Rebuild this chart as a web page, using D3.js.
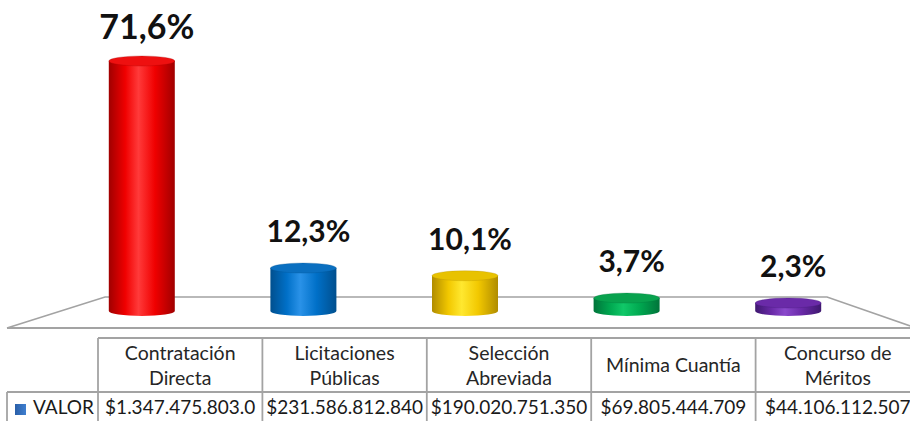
<!DOCTYPE html>
<html>
<head>
<meta charset="utf-8">
<script src="https://cdn.jsdelivr.net/npm/d3@7"></script>
<style>
  body { margin: 0; background: #fff; }
  svg { display: block; font-family: Lato, 'Open Sans', sans-serif; }
</style>
</head>
<body>
<div id="chart"></div>
<script>
const categories = ['Contratación Directa', 'Licitaciones Públicas', 'Selección Abreviada', 'Mínima Cuantía', 'Concurso de Méritos'];
const percents = [71.6, 12.3, 10.1, 3.7, 2.3];
const valueLabels = ['$1.347.475.803.0', '$231.586.812.840', '$190.020.751.350', '$69.805.444.709', '$44.106.112.507'];
const seriesName = 'VALOR';
const colors = [
    { dark: '#a00000', base: '#f00000', light: '#ff3a3a', top: '#ee1010' },
    { dark: '#004f8e', base: '#0070c8', light: '#2a92e8', top: '#0a6fc0' },
    { dark: '#b08c00', base: '#f2c800', light: '#ffe830', top: '#e8c200' },
    { dark: '#00743a', base: '#00a850', light: '#10c868', top: '#08a24e' },
    { dark: '#3f1870', base: '#6a2aa8', light: '#8a48cc', top: '#6a2aa8' }
];

const width = 910;
const height = 421;

const data = categories.map((c, i) => ({ name: c, pct: percents[i], label: valueLabels[i], color: colors[i] }));

const svg = d3.select('#chart').append('svg').attr('width', width).attr('height', height);
const defs = svg.append('defs');

// bar positions (perspective area) and value scale
const x = d3.scaleBand().domain(categories).range([61, 869]);
const y = d3.scaleLinear().domain([0, 71.6]).range([311, 61]);

// table columns
const col = d3.scaleBand().domain(categories).range([98, 920]);

const gray = '#a3a3a3';

// floor
const floorBack = y(0) - 14;
const floorFront = y(0) + 17;
svg.append('path')
    .attr('d', `M7,${floorFront} L105,${floorBack} L827,${floorBack} L916,${floorFront}`)
    .attr('fill', 'none')
    .attr('stroke', gray)
    .attr('stroke-width', 1.6);
svg.append('line')
    .attr('x1', 7).attr('x2', width)
    .attr('y1', floorFront).attr('y2', floorFront)
    .attr('stroke', gray).attr('stroke-width', 2);

// cylinders
const rx = 33;
const ry = 5;
data.forEach((d, i) => {
    const g = defs.append('linearGradient').attr('id', 'grad' + i).attr('x1', '0%').attr('x2', '100%');
    g.append('stop').attr('offset', '0%').attr('stop-color', d.color.dark);
    g.append('stop').attr('offset', '25%').attr('stop-color', d.color.base);
    g.append('stop').attr('offset', '45%').attr('stop-color', d.color.light);
    g.append('stop').attr('offset', '70%').attr('stop-color', d.color.base);
    g.append('stop').attr('offset', '100%').attr('stop-color', d.color.dark);
});

const bars = svg.selectAll('.bar')
    .data(data)
    .enter()
    .append('g')
    .attr('class', 'bar');

bars.append('path')
    .attr('d', (d) => {
        const cx = x(d.name) + x.bandwidth() / 2;
        const yt = y(d.pct);
        const yb = y(0);
        return `M${cx - rx},${yt} L${cx - rx},${yb} A${rx},${ry} 0 0 0 ${cx + rx},${yb} L${cx + rx},${yt} Z`;
    })
    .attr('fill', (d, i) => `url(#grad${i})`);

bars.append('ellipse')
    .attr('cx', (d) => x(d.name) + x.bandwidth() / 2)
    .attr('cy', (d) => y(d.pct))
    .attr('rx', rx)
    .attr('ry', ry)
    .attr('fill', (d) => d.color.top)
    .attr('stroke', (d) => d.color.dark)
    .attr('stroke-opacity', 0.35)
    .attr('stroke-width', 0.8);

const maxPct = d3.max(percents);
svg.selectAll('.pct')
    .data(data)
    .enter()
    .append('text')
    .attr('class', 'pct')
    .attr('x', (d) => x(d.name) + x.bandwidth() / 2 + 5)
    .attr('y', (d) => y(d.pct) - ry - (d.pct === maxPct ? 17 : 21))
    .attr('text-anchor', 'middle')
    .attr('font-weight', 700)
    .attr('font-size', (d) => (d.pct === maxPct ? 34 : 30))
    .attr('fill', '#111')
    .text((d) => d.pct.toFixed(1).replace('.', ',') + '%');

// data table
const tTop = 338;
const tMid = 392;
const tBot = 430;
const lines = svg.append('g').attr('stroke', gray).attr('stroke-width', 1.8);
lines.append('line').attr('x1', 98).attr('x2', width).attr('y1', tTop).attr('y2', tTop);
lines.append('line').attr('x1', 7).attr('x2', width).attr('y1', tMid).attr('y2', tMid);
lines.append('line').attr('x1', 7).attr('x2', 7).attr('y1', tMid).attr('y2', tBot);
categories.forEach((c) => {
    lines.append('line').attr('x1', col(c)).attr('x2', col(c)).attr('y1', tTop).attr('y2', tBot);
});

// header cells with word wrap
const headers = svg.selectAll('.hdr')
    .data(data)
    .enter()
    .append('text')
    .attr('class', 'hdr')
    .attr('text-anchor', 'middle')
    .attr('font-size', 19.5)
    .attr('fill', '#262626');

headers.each(function (d) {
    const t = d3.select(this);
    const cx = col(d.name) + col.bandwidth() / 2;
    const words = d.name.split(' ');
    const rows = [];
    let cur = '';
    const probe = t.append('tspan');
    words.forEach((w) => {
        const test = cur ? cur + ' ' + w : w;
        probe.text(test);
        if (probe.node().getComputedTextLength() > 155 && cur) {
            rows.push(cur);
            cur = w;
        } else {
            cur = test;
        }
    });
    rows.push(cur);
    probe.remove();
    const lh = 25;
    const first = (tTop + tMid) / 2 + 7 - ((rows.length - 1) * lh) / 2;
    rows.forEach((r, k) => {
        t.append('tspan').attr('x', cx).attr('y', first + k * lh).text(r);
    });
});

svg.selectAll('.val')
    .data(data)
    .enter()
    .append('text')
    .attr('class', 'val')
    .attr('x', (d) => col(d.name) + col.bandwidth() / 2)
    .attr('y', 414)
    .attr('text-anchor', 'middle')
    .attr('font-size', 19)
    .attr('fill', '#1a1a1a')
    .text((d) => d.label);

// legend key
const kg = defs.append('linearGradient').attr('id', 'key').attr('x1', '0%').attr('x2', '100%');
kg.append('stop').attr('offset', '0%').attr('stop-color', '#2a5fa8');
kg.append('stop').attr('offset', '100%').attr('stop-color', '#3f7fd0');
svg.append('rect')
    .attr('x', 15).attr('y', 404)
    .attr('width', 11).attr('height', 11)
    .attr('fill', 'url(#key)');
svg.append('text')
    .attr('x', 33).attr('y', 414)
    .attr('font-size', 19)
    .attr('fill', '#1a1a1a')
    .text(seriesName);
</script>
</body>
</html>
